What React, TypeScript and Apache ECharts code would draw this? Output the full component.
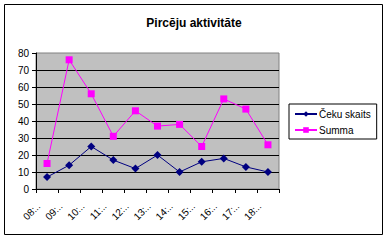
import React, { useEffect, useRef } from "react";
import * as echarts from "echarts";

const categories = ["08:..", "09:..", "10:..", "11:..", "12:..", "13:..", "14:..", "15:..", "16:..", "17:..", "18:.."];
const cekuSkaits = [7, 14, 25, 17, 12, 20, 10, 16, 18, 13, 10];
const summa = [15, 76, 56, 31, 46, 37, 38, 25, 53, 47, 26];
const titleText = "Pircēju aktivitāte";
const seriesNames = ["Čeku skaits", "Summa"];

export default function App() {
  const ref = useRef<HTMLDivElement>(null);
  useEffect(() => {
    if (!ref.current) return;
    const chart = echarts.init(ref.current, undefined, { renderer: "svg" });
    const font = "Liberation Sans, Arial, sans-serif";
    chart.setOption({
      animation: false,
      backgroundColor: "#ffffff",
      textStyle: { fontFamily: font },
      title: {
        text: titleText,
        left: "center",
        top: 12,
        textStyle: { fontFamily: font, fontSize: 12, fontWeight: "bold", color: "#000" },
      },
      graphic: [
        {
          type: "rect",
          shape: { x: 4.5, y: 4.5, width: 378, height: 230 },
          style: { fill: "none", stroke: "#000", lineWidth: 1 },
          z: -10,
        },
      ],
      legend: {
        orient: "vertical",
        left: 289,
        top: 104,
        width: 89,
        height: 35,
        padding: [5, 6, 4, 5],
        itemGap: 6,
        itemWidth: 22,
        itemHeight: 7,
        borderColor: "#000",
        borderWidth: 1,
        backgroundColor: "#fff",
        textStyle: { fontFamily: font, fontSize: 10, color: "#000", padding: [0, 0, 0, -3] },
        data: seriesNames,
      },
      grid: {
        left: 36,
        right: 109,
        top: 53,
        bottom: 51,
        show: true,
        backgroundColor: "#c0c0c0",
        borderColor: "#808080",
        borderWidth: 1,
        containLabel: false,
      },
      xAxis: {
        type: "category",
        data: categories,
        boundaryGap: true,
        axisLine: { show: true, lineStyle: { color: "#000", width: 1 } },
        axisTick: { show: true, alignWithLabel: false, length: 4, lineStyle: { color: "#000" } },
        axisLabel: {
          rotate: 45,
          interval: 0,
          margin: 7,
          fontSize: 10,
          color: "#000",
          fontFamily: font,
          formatter: (v: string) => `{t|${v}}{pad|}`,
          rich: {
            t: { fontSize: 10, color: "#000", fontFamily: font },
            pad: { width: 12 },
          },
        },
        splitLine: { show: false },
      },
      yAxis: {
        type: "value",
        min: 0,
        max: 80,
        interval: 10,
        axisLine: { show: true, lineStyle: { color: "#000", width: 1 } },
        axisTick: { show: true, length: 4, lineStyle: { color: "#000" } },
        axisLabel: { fontSize: 10, color: "#000", margin: 7, fontFamily: font },
        splitLine: { show: true, showMinLine: false, showMaxLine: false, lineStyle: { color: "#000", width: 1 } },
      },
      series: [
        {
          name: seriesNames[0],
          type: "line",
          data: cekuSkaits,
          symbol: "diamond",
          symbolSize: 8,
          color: "#000080",
          lineStyle: { width: 1, color: "#000080" },
          itemStyle: { color: "#000080" },
        },
        {
          name: seriesNames[1],
          type: "line",
          data: summa,
          symbol: "rect",
          symbolSize: 7,
          color: "#ff00ff",
          lineStyle: { width: 1, color: "#ff00ff" },
          itemStyle: { color: "#ff00ff" },
        },
      ],
    });
    return () => chart.dispose();
  }, []);
  return (
    <div
      ref={ref}
      style={{ position: "absolute", left: 0, top: 0, width: 388, height: 240 }}
    />
  );
}
